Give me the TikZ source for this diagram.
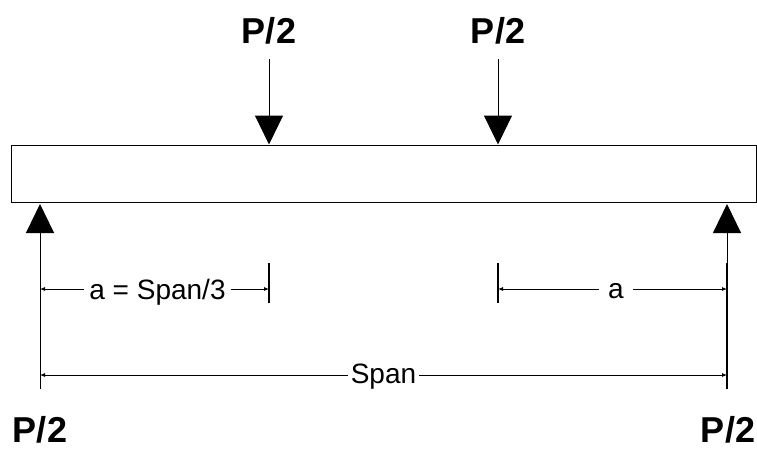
\documentclass[tikz,border=0pt]{standalone}
\usepackage{fontspec}
\setmainfont{Liberation Sans}
\usepackage{tikz}
\usetikzlibrary{arrows.meta}

\begin{document}
\begin{tikzpicture}[line width=1pt,
  beam/.style={draw, rectangle, minimum width=745pt, minimum height=57pt, inner sep=0pt},
  load/.style={-{Triangle[length=29pt,width=28pt]}},
  dim/.style={{Latex[length=5pt,width=4pt]}-{Latex[length=5pt,width=4pt]}, line width=0.8pt},
  tick/.style={line width=1.5pt},
  force/.style={font=\bfseries\fontsize{36}{36}\selectfont, inner sep=0pt, anchor=base},
  dimtext/.style={font=\fontsize{28}{28}\selectfont, fill=white, inner ysep=1pt, inner xsep=3pt, anchor=base}]
  \useasboundingbox (0pt, 0pt) rectangle (757pt, -448pt);
  \draw (383.5pt, -173.5pt)node[beam](beam){};
  % loads on top
  \draw (269.0pt, -43.0pt)node[force](P1){P/2};
  \draw (498.0pt, -43.0pt)node[force](P2){P/2};
  \draw (269.0pt, -59.0pt)node[coordinate](s1){};
  \draw (498.0pt, -59.0pt)node[coordinate](s2){};
  \path[load] (s1) edge (s1 |- beam.north);
  \path[load] (s2) edge (s2 |- beam.north);
  % supports
  \draw (40.0pt, -389.0pt)node[coordinate](r1){};
  \draw (727.0pt, -389.0pt)node[coordinate](r2){};
  \draw (40.0pt, -204.0pt)node[coordinate](t1){};
  \draw (727.0pt, -204.0pt)node[coordinate](t2){};
  \path[load] (r1) edge (t1);
  \path[load] (r2) edge (t2);
  \draw (40.0pt, -442.5pt)node[force](R1){P/2};
  \draw (728.0pt, -442.5pt)node[force](R2){P/2};
  % dimensions
  \draw (269.0pt, -263.0pt)node[coordinate](k1){};
  \draw (269.0pt, -303.0pt)node[coordinate](k2){};
  \draw (498.0pt, -263.0pt)node[coordinate](k3){};
  \draw (498.0pt, -303.0pt)node[coordinate](k4){};
  \draw (727.0pt, -263.0pt)node[coordinate](k5){};
  \draw[tick] (k1) -- (k2);
  \draw[tick] (k3) -- (k4);
  \draw[tick] (k5) -- (r2);
  \draw (40.0pt, -289.0pt)node[coordinate](d1){};
  \draw (269.0pt, -289.0pt)node[coordinate](d2){};
  \draw (498.0pt, -289.0pt)node[coordinate](d3){};
  \draw (727.0pt, -289.0pt)node[coordinate](d4){};
  \draw (40.0pt, -375.0pt)node[coordinate](d5){};
  \draw (727.0pt, -375.0pt)node[coordinate](d6){};
  \draw[dim] (d1) -- (d2);
  \draw[dim] (d3) -- (d4);
  \draw[dim] (d5) -- (d6);
  \draw (157.5pt, -299.0pt)node[dimtext, inner xsep=5pt](a1){a = Span/3};
  \draw (616.0pt, -298.0pt)node[dimtext, inner xsep=9pt](a2){a};
  \draw (383.5pt, -383.0pt)node[dimtext](span){Span};
\end{tikzpicture}
\end{document}
